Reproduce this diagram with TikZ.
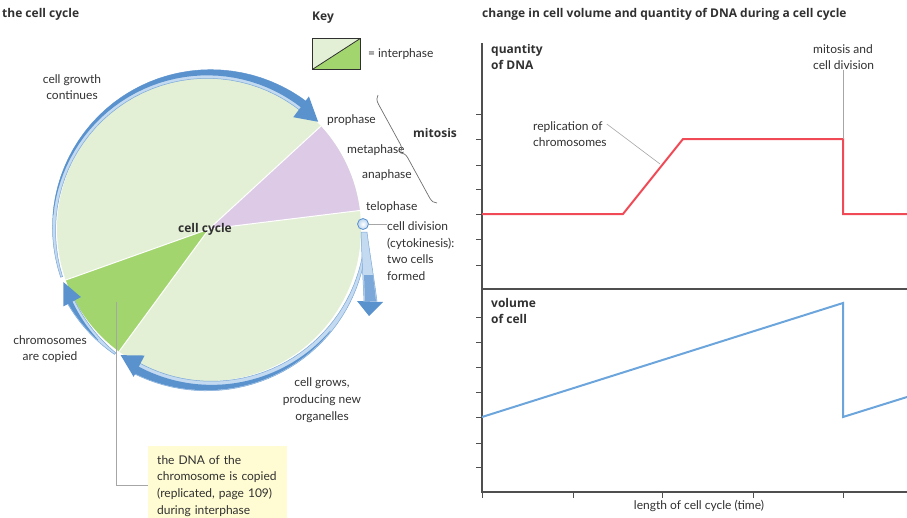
\documentclass[tikz,border=0pt]{standalone}
\usepackage{fontspec}
\setmainfont{Lato}
\newfontfamily\headfont{Open Sans}
\usetikzlibrary{positioning,calc,decorations.pathreplacing}
\definecolor{palegreen}{HTML}{E3F0D5}
\definecolor{copygreen}{HTML}{A3D56F}
\definecolor{mitosisviolet}{HTML}{DDCAE6}
\definecolor{arrowdark}{HTML}{5A92CE}
\definecolor{arrowlight}{HTML}{C3DAF1}
\definecolor{dnared}{HTML}{F04A56}
\definecolor{volblue}{HTML}{6BA5DB}
\definecolor{noteyellow}{HTML}{FFFCD3}
\definecolor{textgray}{HTML}{303030}
\newcommand\ribbon[5]{% from angle, to angle, radius, start width, end width
  plot[variable=\t,domain=#1:#2,samples=40] (\t:{#3+(#4+(#5-#4)*(\t-(#1))/((#2)-(#1)))/2})
  -- plot[variable=\t,domain=#2:#1,samples=40] (\t:{#3-(#4+(#5-#4)*(\t-(#1))/((#2)-(#1)))/2})
  -- cycle
}
\newcommand\ribbonhead[4]{% base angle, tip angle, radius, half width
  (#1:{#3+#4}) -- (#2:#3) -- (#1:{#3-#4}) -- cycle
}
\begin{document}
\begin{tikzpicture}[x=1pt,y=-1pt,
  txt/.style={font=\fontsize{12}{16.7}\selectfont,inner sep=0pt,text=textgray},
  heading/.style={font=\headfont\fontsize{12}{16.7}\selectfont\bfseries,inner sep=0pt,text=textgray},
  ribbonlight/.style={fill=arrowlight,draw=arrowdark!80,line width=0.5pt},
  ribbondark/.style={fill=arrowdark},
  leader/.style={draw=gray!70,line width=0.6pt},
  axis/.style={draw=textgray!85,line width=1.1pt},
  keybox/.style={draw=textgray,line width=0.8pt,fill=palegreen,minimum width=48,minimum height=31,inner sep=0pt,
    path picture={\fill[copygreen] (path picture bounding box.north east) -- (path picture bounding box.south east)
      -- (path picture bounding box.south west) -- cycle;
      \draw[textgray,line width=0.8pt] (path picture bounding box.south west) -- (path picture bounding box.north east);}},
  notebox/.style={txt,fill=noteyellow,anchor=north west,text width=121,inner sep=9pt,minimum height=75,align=left},
  bubble/.style={circle,draw=arrowdark,inner color=white,outer color=arrowlight!90!arrowdark,line width=0.8pt,minimum size=11,inner sep=0pt}]
  \useasboundingbox (0,0) rectangle (907,517);
  \coordinate (ctr) at (209,229);
  \fill[palegreen] (ctr) circle[radius=152];
  \fill[mitosisviolet] (ctr) -- +(-42.6:152) arc[start angle=-42.6,end angle=-7,radius=152] -- cycle;
  \fill[copygreen] (ctr) -- +(126.3:152) arc[start angle=126.3,end angle=160.4,radius=152] -- cycle;
  \foreach \a in {-42.6,-7,126.3,160.4}
    \draw[white,line width=1pt] (ctr) -- +(\a:152);
  \begin{scope}[shift={(ctr)}]
    \filldraw[ribbonlight] \ribbon{162}{308}{155}{2}{11};
    \fill[ribbondark] \ribbon{185}{308}{156.5}{0.5}{8};
    \fill[ribbondark] \ribbonhead{307}{315.5}{153}{13};
    \filldraw[ribbonlight] \ribbon{4}{118}{157}{2}{12};
    \fill[ribbondark] \ribbon{40}{118}{158.5}{0.5}{8};
    \fill[ribbondark] \ribbonhead{117}{125}{154}{12};
    \filldraw[ribbonlight] \ribbon{127}{153}{156}{2}{8};
    \fill[ribbondark] \ribbon{135}{153}{157}{0.5}{5};
    \fill[ribbondark] \ribbonhead{152}{160}{155}{10};
  \end{scope}
  \filldraw[ribbonlight] (361,232) .. controls (362,260) and (363,280) .. (364,301) -- (377,301)
    .. controls (374,278) and (370,255) .. (367,232) -- cycle;
  \fill[arrowdark!80] (364,275) .. controls (364.5,285) and (364.5,292) .. (365,301) -- (376,301)
    .. controls (375,292) and (374,285) .. (373,275) -- cycle;
  \fill[ribbondark] (357,301) -- (383,302) -- (369,316) -- cycle;
  \node[bubble] (division) at (363,224) {};

  \node[heading,anchor=west] (cycletitle) at (2,14) {the cell cycle};
  \node[heading,anchor=west] (keytitle) at (312,18) {Key};
  \node[keybox,anchor=north west] (keysample) at (312,38) {};
  \node[txt,right=7pt of keysample] (keytext) {= interphase};
  \node[txt,align=center] (growth) at (72,87) {cell growth\\continues};
  \node[txt,anchor=west] (prophase) at (327,120) {prophase};
  \node[txt,anchor=west] (metaphase) at (347,150) {metaphase};
  \node[txt,anchor=west] (anaphase) at (362,175) {anaphase};
  \node[txt,anchor=west] (telophase) at (366,207) {telophase};
  \node[heading,anchor=west] (mitosis) at (413,133) {mitosis};
  \draw[draw=textgray!70,line width=0.7pt,decorate,decoration={brace,amplitude=8pt}] (437,203) -- (378,95);
  \node[txt,anchor=west,align=left] (celldiv) at (387,251) {cell division\\(cytokinesis):\\two cells\\formed};
  \draw[leader] (division) -- (division -| celldiv.west);
  \node[heading] (cellcycle) at (205,229) {cell cycle};
  \node[txt,align=center] (copied) at (50,349) {chromosomes\\are copied};
  \node[txt,align=center] (grows) at (322,400) {cell grows,\\producing new\\organelles};
  \node[notebox] (dnanote) at (148,446) {the DNA of the\\chromosome is copied\\(replicated, page 109)\\during interphase};
  \coordinate (copypt) at (116,302);
  \draw[leader] (copypt) |- (dnanote.west);

  \node[heading,anchor=west] (graphtitle) at (482,14) {change in cell volume and quantity of DNA during a cell cycle};
  \draw[axis] (482,43) -- (482,492) -- (907,492);
  \draw[axis] (482,289) -- (907,289);
  \foreach \y in {114,139,165,189,214,239,265,317,342,367,392,417,443,467}
    \draw[axis,line width=0.8pt] (476,\y) -- (482,\y);
  \foreach \x in {482,573,662,753,843}
    \draw[axis,line width=0.8pt] (\x,492) -- (\x,498);
  \node[heading,anchor=west,align=left] (dnalabel) at (491,57) {quantity\\of DNA};
  \node[heading,anchor=west,align=left] (vollabel) at (491,311) {volume\\of cell};
  \coordinate (dnatop) at (843,139);
  \coordinate (replpt) at (660,164);
  \draw[dnared,line width=2pt,line join=miter] (482,214) -- (623,214) -- (683,139) -- (dnatop) -- (843,214) -- (907,214);
  \draw[volblue,line width=2pt,line join=miter] (482,417) -- (843,303) -- (843,417) -- (907,397);
  \node[txt,anchor=west,align=left] (repl) at (533,134) {replication of\\chromosomes};
  \draw[leader] ([yshift=10pt]repl.east) -- (replpt);
  \node[txt,anchor=west,align=left] (mitdiv) at (813,57) {mitosis and\\cell division};
  \draw[leader] (mitdiv.south -| dnatop) -- (dnatop);
  \node[txt] (timelabel) at (699,506) {length of cell cycle (time)};
\end{tikzpicture}
\end{document}
